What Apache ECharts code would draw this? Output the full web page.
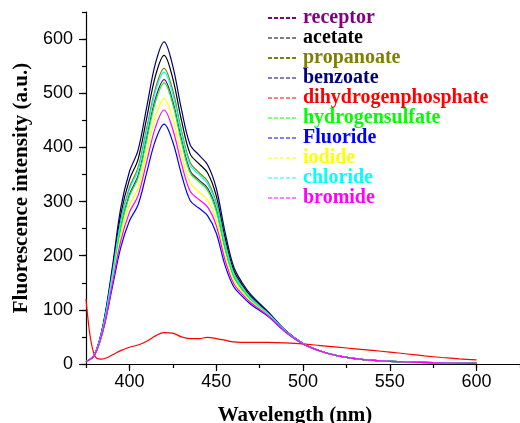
<!DOCTYPE html>
<html>
<head>
<meta charset="utf-8">
<script src="https://cdn.jsdelivr.net/npm/echarts@6/dist/echarts.min.js"></script>
<style>html,body{margin:0;padding:0;background:#fff;}#c{width:520px;height:423px;}</style>
</head>
<body>
<div id="c"></div>
<script>
var wavelengths = [375,380,385,390,395,400,405,410,415,420,425,430,435,440,445,450,455,460,465,470,480,490,500,510,520,535,550,575,600];
var receptor = [4,17.4,69.7,158,254,313,348,419,490,525,485,415,357,340,325,287,216,163,138,120,92,60.5,37.5,23.9,15,8,5,2.5,1];
var acetate = [4,18,73,169,276,340,378,455,532,570,527,450,388,370,353,311,235,174,146,125,95,61.5,37.8,24,15,8,5,2.5,1];
var propanoate = [4,17.6,71,163,264,326,363,436,509,546,505,431,372,354,338,298,225,168,142,122,93,61,37.7,23.9,15,8,5,2.5,1];
var benzoate = [4,18,75,175,288,355,395,475,555,595,550,470,405,386,368,325,245,180,150,128,96,62,38,24,15,8,5,2.5,1];
var hydrogensulfate = [4,17.3,69,157,251,310,344,414,484,519,480,410,353,337,321,283,214,162,137.5,119,91.7,60.4,37.5,23.8,15,8,5,2.5,1];
var fluoride = [4,16.6,63.5,139,215,264,294,354,413,443,410,350,302,288,274,242,183,143,125,110,87.5,58.8,37,23.7,15,8,5,2.5,1];
var iodide = [4,17,67,150,237,293,325,391,457,490,453,387,334,318,303,268,202,155,133,115.6,90,59.8,37.3,23.8,15,8,5,2.5,1];
var chloride = [4,17.5,70.8,162,261,322,358,430,503,539,498,426,367,350,333,294,222,166.5,141,121,93,61,37.6,23.9,15,8,5,2.5,1];
var bromide = [4,16.8,65.5,145,227,280,311,374,437,469,433,370,319,304,290,256,193,149,129,113,89,59.4,37.2,23.7,15,8,5,2.5,1];

var phosphateWavelengths = [375,377,379,381,384,388,392,396,400,405,410,415,420,425,430,435,440,445,450,455,460,470,480,490,500,510,520,530,540,550,560,570,580,590,600];
var dihydrogenphosphate = [120,60,25,11,9,13,20,26,31,35,42,52,58,57,50,47,47,49,47,44,41,40,40,39,37,34,31,28,25,22,18.5,15,12,9.5,7.5];

var xTickValues = [400,450,500,550,600];
var yTickValues = [0,100,200,300,400,500,600];

var seriesNames = ['receptor','acetate','propanoate','benzoate','dihydrogenphosphate','hydrogensulfate','Fluoride','iodide','chloride','bromide'];
var seriesColors = ['#800080','#000000','#808000','#000080','#ff0000','#00ff00','#0000ff','#ffff00','#00ffff','#ff00ff'];
var legendLineWidths = [2,1,2,1,1,1,1,1,1,1];

var valueSets = {
  'receptor': [wavelengths, receptor],
  'acetate': [wavelengths, acetate],
  'propanoate': [wavelengths, propanoate],
  'benzoate': [wavelengths, benzoate],
  'dihydrogenphosphate': [phosphateWavelengths, dihydrogenphosphate],
  'hydrogensulfate': [wavelengths, hydrogensulfate],
  'Fluoride': [wavelengths, fluoride],
  'iodide': [wavelengths, iodide],
  'chloride': [wavelengths, chloride],
  'bromide': [wavelengths, bromide]
};

var chart = echarts.init(document.getElementById('c'), null, {renderer: 'canvas'});

var series = seriesNames.map(function (name, i) {
  var xs = valueSets[name][0], ys = valueSets[name][1];
  return {
    name: name,
    type: 'line',
    xAxisIndex: 0,
    yAxisIndex: 0,
    symbol: 'none',
    smooth: 0.35,
    data: xs.map(function (x, k) { return [x, ys[k]]; }),
    lineStyle: {color: seriesColors[i], width: 1.2},
    itemStyle: {color: seriesColors[i]},
    z: 2
  };
});

var legendData = seriesNames.map(function (name, i) {
  return {
    name: name,
    textStyle: {color: seriesColors[i]},
    itemStyle: {opacity: 0},
    lineStyle: {width: legendLineWidths[i], type: [4, 2]}
  };
});

var axisLineStyle = {color: '#000', width: 1.2};
var labelFont = {fontFamily: 'Liberation Sans', fontSize: 18, color: '#000'};
var nameFont = {fontFamily: 'Liberation Serif', fontWeight: 'bold', fontSize: 21, color: '#000'};

chart.setOption({
  animation: false,
  backgroundColor: '#fff',
  grid: {left: 86, right: 0, top: 12, bottom: 59, containLabel: false, outerBoundsMode: 'none'},
  legend: {
    orient: 'vertical',
    left: 262,
    top: 3,
    itemWidth: 30,
    itemHeight: 10,
    itemGap: 0,
    data: legendData,
    itemStyle: {opacity: 0},
    lineStyle: {type: [4, 2]},
    textStyle: {fontFamily: 'Liberation Serif', fontWeight: 'bold', fontSize: 20, lineHeight: 20}
  },
  xAxis: [
    {
      type: 'value', min: 375, max: 625, interval: 25,
      axisLine: {show: true, onZero: false, lineStyle: axisLineStyle},
      axisTick: {show: true, length: 4, lineStyle: axisLineStyle},
      axisLabel: {show: false},
      splitLine: {show: false}
    },
    {
      type: 'value', min: 375, max: 625, position: 'bottom',
      axisLine: {show: false, onZero: false},
      axisTick: {show: true, length: 7, customValues: xTickValues, lineStyle: axisLineStyle},
      axisLabel: Object.assign({show: true, margin: 9, customValues: xTickValues}, labelFont),
      splitLine: {show: false},
      name: 'Wavelength (nm)',
      nameLocation: 'middle',
      nameGap: 41,
      nameTextStyle: Object.assign({padding: [0, 16, 0, 0]}, nameFont)
    }
  ],
  yAxis: [
    {
      type: 'value', min: 0, max: 650, interval: 50,
      axisLine: {show: true, onZero: false, lineStyle: axisLineStyle},
      axisTick: {show: true, length: 4, lineStyle: axisLineStyle},
      axisLabel: {show: false},
      splitLine: {show: false}
    },
    {
      type: 'value', min: 0, max: 650, position: 'left',
      axisLine: {show: false, onZero: false},
      axisTick: {show: true, length: 7, customValues: yTickValues, lineStyle: axisLineStyle},
      axisLabel: Object.assign({show: true, margin: 13, customValues: yTickValues}, labelFont),
      splitLine: {show: false},
      name: 'Fluorescence intensity (a.u.)',
      nameLocation: 'middle',
      nameGap: 53,
      nameTextStyle: nameFont
    }
  ],
  series: series
});
</script>
</body>
</html>
